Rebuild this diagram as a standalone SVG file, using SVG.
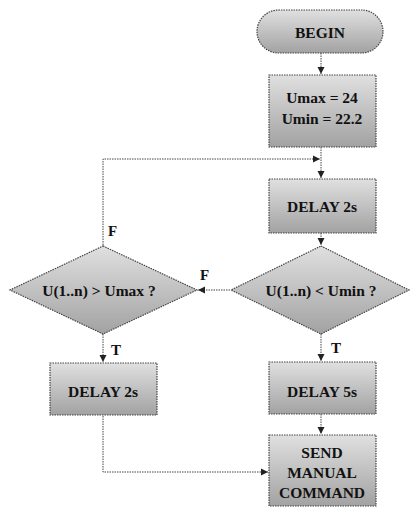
<svg xmlns="http://www.w3.org/2000/svg" width="410" height="508" viewBox="0 0 410 508">
<defs>
<linearGradient id="g" x1="0" y1="0" x2="0" y2="1">
<stop offset="0" stop-color="#e0e0e0"/>
<stop offset="1" stop-color="#a2a2a2"/>
</linearGradient>
<marker id="a" markerWidth="8" markerHeight="8" refX="7" refY="4" orient="auto" markerUnits="userSpaceOnUse">
<path d="M0,0.5 L7,4 L0,7.5 Z" fill="#222"/>
</marker>
<style>
.s{fill:url(#g);stroke:#444;stroke-width:1.2;stroke-dasharray:1.5 1}
.t{font-family:"Liberation Serif","Times New Roman",serif;font-weight:bold;font-size:15.5px;fill:#111;text-anchor:middle}
.l{font-family:"Liberation Serif","Times New Roman",serif;font-weight:bold;font-size:15px;fill:#111}
.c{fill:none;stroke:#444;stroke-width:1;stroke-dasharray:1.5 1}
</style>
</defs>
<rect width="410" height="508" fill="#fff"/>
<g id="connectors">
<line class="c" x1="321" y1="53" x2="321" y2="74" marker-end="url(#a)"/>
<line class="c" x1="321" y1="147" x2="321" y2="178" marker-end="url(#a)"/>
<polyline class="c" points="103,245 103,159 320,159" marker-end="url(#a)"/>
<line class="c" x1="321" y1="233" x2="321" y2="245" marker-end="url(#a)"/>
<line class="c" x1="230" y1="290" x2="198" y2="290" marker-end="url(#a)"/>
<line class="c" x1="103" y1="334" x2="103" y2="362" marker-end="url(#a)"/>
<line class="c" x1="321" y1="334" x2="321" y2="361" marker-end="url(#a)"/>
<line class="c" x1="321" y1="414" x2="321" y2="434" marker-end="url(#a)"/>
<polyline class="c" points="103,416 103,472 268,472" marker-end="url(#a)"/>
<text class="l" x="108" y="236">F</text>
<text class="l" x="200" y="280">F</text>
<text class="l" x="111" y="355">T</text>
<text class="l" x="331" y="353">T</text>
</g>
<g id="begin">
<rect class="s" x="257" y="10" width="126" height="43" rx="21.5"/>
<text class="t" x="320" y="38">BEGIN</text>
</g>
<g id="init">
<rect class="s" x="269" y="75" width="107" height="72"/>
<text class="t" x="322" y="103">Umax = 24</text>
<text class="t" x="322" y="124">Umin = 22.2</text>
</g>
<g id="delay1">
<rect class="s" x="269" y="179" width="107" height="54"/>
<text class="t" x="322" y="212">DELAY 2s</text>
</g>
<g id="cond_min">
<polygon class="s" points="321,246 409,290 321,334 231,290"/>
<text class="t" x="321" y="296">U(1..n) &lt; Umin ?</text>
</g>
<g id="cond_max">
<polygon class="s" points="103,246 197,290 103,334 10,290"/>
<text class="t" x="99" y="296">U(1..n) &gt; Umax ?</text>
</g>
<g id="delay2">
<rect class="s" x="50" y="363" width="107" height="52"/>
<text class="t" x="103" y="397">DELAY 2s</text>
</g>
<g id="delay5">
<rect class="s" x="269" y="362" width="107" height="52"/>
<text class="t" x="322" y="397">DELAY 5s</text>
</g>
<g id="send">
<rect class="s" x="269" y="435" width="107" height="71"/>
<text class="t" x="322" y="458">SEND</text>
<text class="t" x="322" y="478">MANUAL</text>
<text class="t" x="322" y="498">COMMAND</text>
</g>
</svg>
